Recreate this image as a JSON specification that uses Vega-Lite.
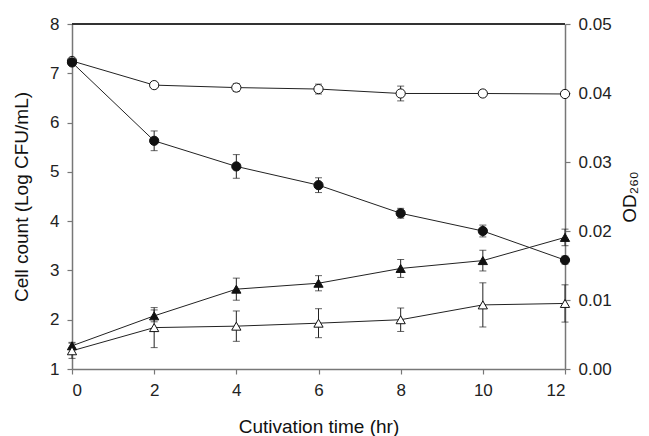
{
  "$schema": "https://vega.github.io/schema/vega-lite/v6.json",
  "width": 493,
  "height": 345,
  "autosize": "none",
  "padding": {"left": 72, "top": 24, "right": 84, "bottom": 67},
  "config": {
    "font": "Liberation Sans",
    "view": {"stroke": null},
    "axis": {
      "domainColor": "#777777",
      "domainWidth": 1.5,
      "tickColor": "#777777",
      "tickWidth": 1.2,
      "tickSize": 5,
      "labelFontSize": 17,
      "labelColor": "#222222",
      "labelPadding": 8,
      "titleFontSize": 19,
      "titleFontWeight": "normal",
      "titleColor": "#111111",
      "grid": false
    }
  },
  "datasets": {
    "cells": [
      {"t": 0, "series": "open", "y": 7.25, "err": 0.05},
      {"t": 2, "series": "open", "y": 6.76, "err": 0.05},
      {"t": 4, "series": "open", "y": 6.71, "err": 0.08},
      {"t": 6, "series": "open", "y": 6.68, "err": 0.1},
      {"t": 8, "series": "open", "y": 6.59, "err": 0.15},
      {"t": 10, "series": "open", "y": 6.59, "err": 0.05},
      {"t": 12, "series": "open", "y": 6.58, "err": 0.05},
      {"t": 0, "series": "filled", "y": 7.22, "err": 0.05},
      {"t": 2, "series": "filled", "y": 5.63, "err": 0.2},
      {"t": 4, "series": "filled", "y": 5.11, "err": 0.24},
      {"t": 6, "series": "filled", "y": 4.73, "err": 0.15},
      {"t": 8, "series": "filled", "y": 4.16, "err": 0.1},
      {"t": 10, "series": "filled", "y": 3.8, "err": 0.12},
      {"t": 12, "series": "filled", "y": 3.21, "err": 0.08}
    ],
    "od": [
      {"t": 0, "series": "filled", "y": 0.00336, "err": 0.0005},
      {"t": 2, "series": "filled", "y": 0.0077, "err": 0.00086},
      {"t": 4, "series": "filled", "y": 0.01157, "err": 0.0016},
      {"t": 6, "series": "filled", "y": 0.01243, "err": 0.0011},
      {"t": 8, "series": "filled", "y": 0.01457, "err": 0.0013},
      {"t": 10, "series": "filled", "y": 0.01571, "err": 0.0015},
      {"t": 12, "series": "filled", "y": 0.01907, "err": 0.0012},
      {"t": 0, "series": "open", "y": 0.00264, "err": 0.0011},
      {"t": 2, "series": "open", "y": 0.006, "err": 0.0029},
      {"t": 4, "series": "open", "y": 0.00621, "err": 0.0022},
      {"t": 6, "series": "open", "y": 0.00664, "err": 0.0021},
      {"t": 8, "series": "open", "y": 0.00714, "err": 0.0017},
      {"t": 10, "series": "open", "y": 0.00929, "err": 0.0032},
      {"t": 12, "series": "open", "y": 0.0095, "err": 0.0027}
    ]
  },
  "layer": [
    {
      "data": {"name": "cells"},
      "encoding": {
        "x": {
          "field": "t", "type": "quantitative",
          "scale": {"domain": [0, 12], "nice": false},
          "axis": {"values": [0, 2, 4, 6, 8, 10, 12], "title": "Cutivation time (hr)", "titlePadding": 19}
        }
      },
      "layer": [
        {
          "mark": {"type": "rule", "color": "#333333", "strokeWidth": 1},
          "encoding": {
            "y": {"datum": 8, "type": "quantitative", "scale": {"domain": [1, 8], "nice": false, "zero": false}},
            "x": {"datum": 0}, "x2": {"datum": 12}
          }
        },
        {
          "mark": {"type": "errorbar", "ticks": {"size": 7, "color": "#222222"}, "rule": {"color": "#222222", "strokeWidth": 1}},
          "encoding": {
            "y": {"field": "y", "type": "quantitative", "scale": {"domain": [1, 8], "nice": false, "zero": false},
              "axis": {"values": [1, 2, 3, 4, 5, 6, 7, 8], "title": "Cell count (Log CFU/mL)", "titlePadding": 18, "orient": "left"}},
            "yError": {"field": "err"},
            "detail": {"field": "series"}
          }
        },
        {
          "mark": {"type": "line", "color": "#222222", "strokeWidth": 1},
          "encoding": {"y": {"field": "y", "type": "quantitative", "scale": {"domain": [1, 8], "nice": false, "zero": false}}, "detail": {"field": "series"}}
        },
        {
          "mark": {"type": "point", "shape": "circle", "size": 85, "stroke": "#111111", "strokeWidth": 1, "opacity": 1},
          "encoding": {
            "y": {"field": "y", "type": "quantitative", "scale": {"domain": [1, 8], "nice": false, "zero": false}},
            "fill": {"field": "series", "type": "nominal", "scale": {"domain": ["open", "filled"], "range": ["#ffffff", "#111111"]}, "legend": null},
            "order": {"field": "series", "sort": "descending"}
          }
        }
      ]
    },
    {
      "data": {"name": "od"},
      "encoding": {
        "x": {"field": "t", "type": "quantitative"}
      },
      "layer": [
        {
          "mark": {"type": "errorbar", "ticks": {"size": 7, "color": "#222222"}, "rule": {"color": "#222222", "strokeWidth": 1}},
          "encoding": {
            "y": {"field": "y", "type": "quantitative", "scale": {"domain": [0, 0.05], "nice": false},
              "axis": {"orient": "right", "values": [0, 0.01, 0.02, 0.03, 0.04, 0.05], "format": ".2f", "title": "OD₂₆₀", "titleAngle": 270, "titlePadding": 28}},
            "yError": {"field": "err"},
            "detail": {"field": "series"}
          }
        },
        {
          "mark": {"type": "line", "color": "#222222", "strokeWidth": 1},
          "encoding": {"y": {"field": "y", "type": "quantitative", "scale": {"domain": [0, 0.05], "nice": false}}, "detail": {"field": "series"}}
        },
        {
          "mark": {"type": "point", "shape": "triangle-up", "size": 85, "stroke": "#111111", "strokeWidth": 1, "opacity": 1},
          "encoding": {
            "y": {"field": "y", "type": "quantitative", "scale": {"domain": [0, 0.05], "nice": false}},
            "fill": {"field": "series", "type": "nominal", "scale": {"domain": ["open", "filled"], "range": ["#ffffff", "#111111"]}, "legend": null}
          }
        }
      ]
    }
  ],
  "resolve": {"scale": {"y": "independent"}}
}
